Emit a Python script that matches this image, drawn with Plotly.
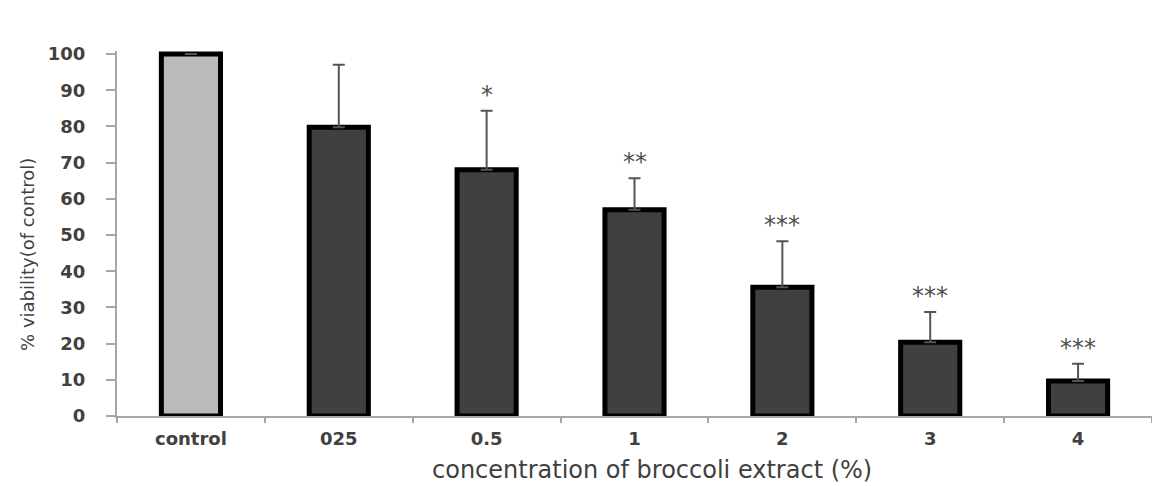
import plotly.graph_objects as go

categories = ["control", "025", "0.5", "1", "2", "3", "4"]
viability = [100, 79.8, 68.0, 57.0, 35.6, 20.4, 9.7]
error_up = [0.0, 17.2, 16.3, 8.7, 12.7, 8.3, 4.7]
significance = ["", "", "*", "**", "***", "***", "***"]
bar_colors = ["#bababa", "#404040", "#404040", "#404040", "#404040", "#404040", "#404040"]
x_title = "concentration of broccoli extract (%)"
y_title = "% viability(of control)"

fig = go.Figure()
fig.add_trace(go.Bar(
    x=categories, y=viability,
    width=0.40,
    marker=dict(color=bar_colors, line=dict(color="#000000", width=5)),
    error_y=dict(type="data", symmetric=False, array=error_up,
                 arrayminus=[0] * len(error_up),
                 color="#555555", thickness=2, width=6),
    showlegend=False,
))

for i, (v, e, s) in enumerate(zip(viability, error_up, significance)):
    if s:
        fig.add_annotation(x=i, y=v + e + 4.5, text=s, showarrow=False,
                           yanchor="middle", xanchor="center",
                           font=dict(family="DejaVu Sans", size=24, color="#505050"))

# axis titles (placed as annotations to match the original offsets)
fig.add_annotation(xref="paper", yref="paper", x=0.517, y=-0.148, text=x_title,
                   showarrow=False, xanchor="center", yanchor="middle",
                   font=dict(family="DejaVu Sans", size=24, color="#404040"))
fig.add_annotation(xref="paper", yref="paper", x=-0.086, y=0.444, text=y_title,
                   textangle=-90, showarrow=False, xanchor="center", yanchor="middle",
                   font=dict(family="DejaVu Sans", size=18, color="#404040"))

tickfont = dict(family="DejaVu Sans", size=18, color="#404040", weight="bold")
fig.update_layout(
    width=1152, height=486,
    margin=dict(l=117, r=0, t=51, b=70),
    paper_bgcolor="white", plot_bgcolor="white",
    bargap=0.6,
    xaxis=dict(
        type="category", range=[-0.5, 6.5],
        showline=True, linecolor="#a6a6a6", linewidth=2,
        ticks="outside", tickson="boundaries", ticklen=5, tickcolor="#a6a6a6", tickwidth=2,
        tickfont=tickfont, showgrid=False, ticklabelstandoff=5,
    ),
    yaxis=dict(
        range=[0, 100.83], tickvals=list(range(0, 101, 10)),
        showline=True, linecolor="#a6a6a6", linewidth=2,
        ticks="outside", ticklen=9, tickcolor="#a6a6a6", tickwidth=2,
        tickfont=tickfont, showgrid=False, zeroline=False, ticklabelstandoff=17,
    ),
)

fig.write_html("out.html")
